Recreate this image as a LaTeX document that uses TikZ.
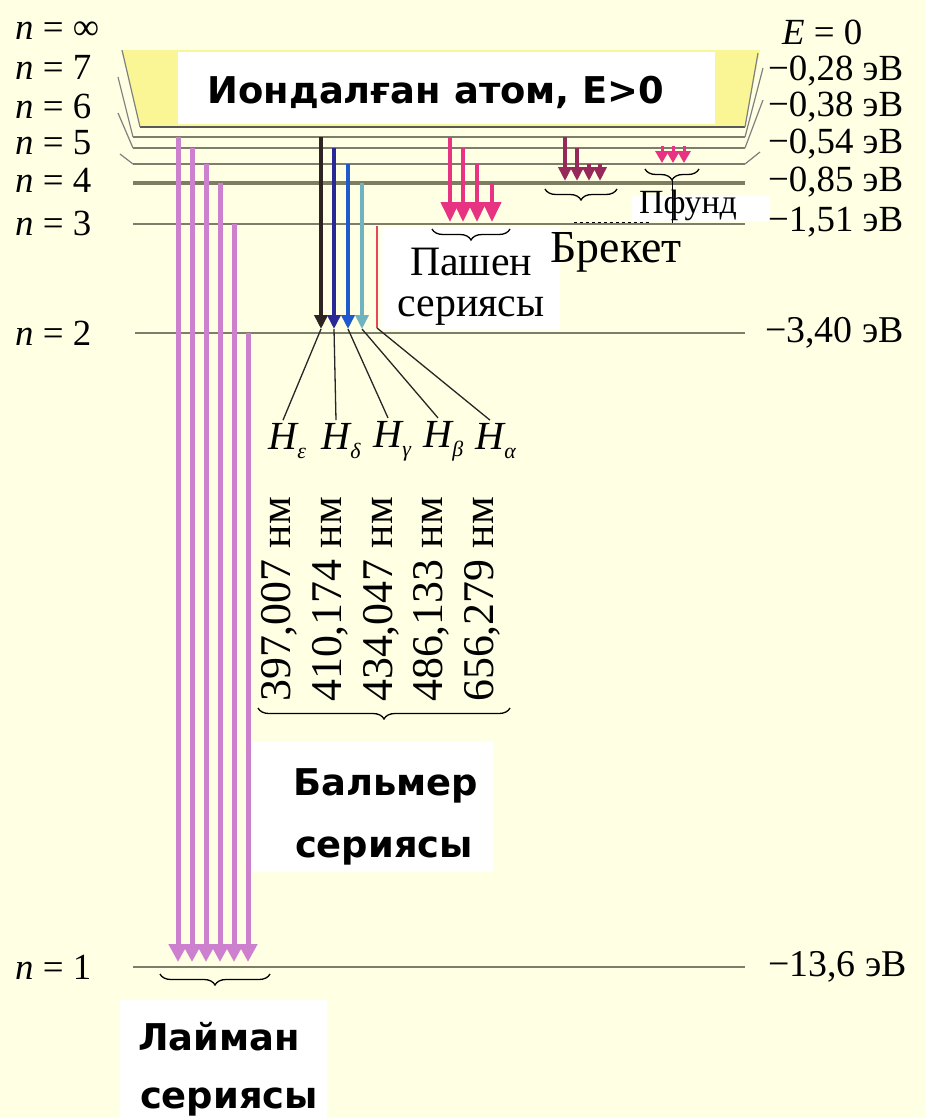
\documentclass[tikz,border=0pt]{standalone}
\usepackage{fontspec}
\setmainfont{Liberation Serif}
\newfontfamily\headfont{DejaVu Sans}
\usetikzlibrary{arrows.meta,decorations.pathreplacing}

\definecolor{bgcream}{RGB}{255,255,228}
\definecolor{topyellow}{RGB}{250,246,150}
\definecolor{levelgray}{RGB}{125,125,108}
\definecolor{lymanviolet}{RGB}{204,128,206}
\definecolor{balmerblack}{RGB}{45,35,35}
\definecolor{balmerdark}{RGB}{40,40,150}
\definecolor{balmerblue}{RGB}{30,90,205}
\definecolor{balmerteal}{RGB}{110,180,190}
\definecolor{balmerred}{RGB}{230,70,90}
\definecolor{paschenpink}{RGB}{232,50,130}
\definecolor{brackettred}{RGB}{150,40,90}

\newcommand{\fsz}[1]{\fontsize{#1}{#1}\selectfont}
\newcommand{\hsub}[1]{\rlap{\raisebox{-9bp}{\fsz{22}#1}}}

\begin{document}
\begin{tikzpicture}[
  x=1bp, y=-1bp,
  levelline/.style={levelgray, line width=2.5bp},
  bendline/.style={gray, line width=1.2bp},
  lyman/.style={lymanviolet, line width=5bp, -{Triangle[width=18bp,length=18bp]}},
  balmer/.style={line width=3.5bp, -{Triangle[width=13bp,length=14bp]}},
  paschen/.style={paschenpink, line width=4bp, -{Triangle[width=18bp,length=20bp]}},
  brackett/.style={brackettred, line width=3.5bp, -{Triangle[width=13bp,length=14bp]}},
  pfund/.style={paschenpink, line width=3bp, -{Triangle[width=13bp,length=12bp]}},
  leader/.style={black!85, line width=1.3bp},
  brace/.style={black, line width=1.3bp, decorate, decoration={brace, mirror, amplitude=11bp}},
  levlab/.style={anchor=west, inner sep=0pt, font=\fsz{37}},
  hlabel/.style={inner sep=3bp, font=\itshape\fsz{40}},
  wave/.style={rotate=90, anchor=west, inner sep=0pt, font=\fsz{44}},
  serif/.style={inner sep=0pt, font=\fsz{46}},
  series/.style={anchor=base, inner sep=0pt, font=\headfont\bfseries\fsz{37}}
]
\useasboundingbox[fill=bgcream] (0,0) rectangle (926,1118);

% ionised region
\fill[topyellow] (122,50) -- (760,50) -- (745,127) -- (140,127) -- cycle;
\fill[white] (178,52) rectangle (715,124);
\node[font=\headfont\bfseries\fsz{37}, anchor=base, inner sep=0pt] (ion) at (436,103) {Иондалған атом, E>0};

% white label backgrounds
\fill[white] (381,227) rectangle (560,330);
\fill[white] (632,196) rectangle (770,221);
\fill[white] (250,742) rectangle (493,872);
\fill[white] (120,1000) rectangle (327,1118);

% energy levels
\foreach \n/\y/\xw in {inf/127/140, 7/137/133, 6/148/133, 5/164/133, 3/224/133, 2/333/135, 1/967/133} {
  \coordinate (lvl\n w) at (\xw,\y);
  \coordinate (lvl\n e) at (745,\y);
  \draw[levelline] (lvl\n w) -- (lvl\n e);
}
\coordinate (lvl4w) at (133,183);
\coordinate (lvl4e) at (745,183);
\draw[levelline, line width=4bp, levelgray!90!olive] (lvl4w) -- (lvl4e);
\draw[levelline, black!65] (lvlinfw) -- (lvlinfe);

% bends to the labels
\coordinate (bInfl) at (122,50);  \coordinate (bInfr) at (758,53);
\coordinate (b7l) at (118,77);    \coordinate (b7r) at (763,68);
\coordinate (b6l) at (118,113);   \coordinate (b6r) at (763,100);
\coordinate (b5l) at (120,154);   \coordinate (b5r) at (760,152);
\draw[bendline] (bInfl) -- (lvlinfw);  \draw[bendline] (lvlinfe) -- (bInfr);
\draw[bendline] (b7l) -- (lvl7w);      \draw[bendline] (lvl7e) -- (b7r);
\draw[bendline] (b6l) -- (lvl6w);      \draw[bendline] (lvl6e) -- (b6r);
\draw[bendline] (b5l) -- (lvl5w);      \draw[bendline] (lvl5e) -- (b5r);

% level labels
\node[levlab] (nInf) at (15,31) {{\itshape n} = ∞};
\node[levlab] (n7) at (15,67) {{\itshape n} = 7};
\node[levlab] (n6) at (15,106) {{\itshape n} = 6};
\node[levlab] (n5) at (15,143) {{\itshape n} = 5};
\node[levlab] (n4) at (15,180) {{\itshape n} = 4};
\node[levlab] (n3) at (15,223) {{\itshape n} = 3};
\node[levlab] (n2) at (15,333) {{\itshape n} = 2};
\node[levlab] (n1) at (15,967) {{\itshape n} = 1};

\node[levlab] (eInf) at (782,32) {{\itshape E} = 0};
\node[levlab, font=\fsz{37}] (e7) at (768,71) {−0,28 эВ};
\node[levlab, font=\fsz{37}] (e6) at (768,107) {−0,38 эВ};
\node[levlab, font=\fsz{37}] (e5) at (768,144) {−0,54 эВ};
\node[levlab, font=\fsz{37}] (e4) at (768,182) {−0,85 эВ};
\node[levlab, font=\fsz{37}] (e3) at (768,222) {−1,51 эВ};
\node[levlab, font=\fsz{38}] (e2) at (765,333) {−3,40 эВ};
\node[levlab, font=\fsz{38}] (e1) at (768,967) {−13,6 эВ};

% Lyman
\foreach \x/\y [count=\i] in {178/137, 192/148, 206/164, 220/183, 234/224, 248/333} {
  \coordinate (lyS\i) at (\x,\y);
  \coordinate (lyE\i) at (\x,962);
  \draw[lyman] (lyS\i) -- (lyE\i);
}

% Balmer
\foreach \x/\y/\c/\nm in {321/137/balmerblack/e, 334/148/balmerdark/d, 348/164/balmerblue/g, 362/183/balmerteal/b} {
  \coordinate (baS\nm) at (\x,\y);
  \coordinate (baE\nm) at (\x,329);
  \draw[balmer, \c] (baS\nm) -- (baE\nm);
}
\coordinate (baSa) at (377,226);
\coordinate (baEa) at (377,328);
\draw[balmerred, line width=2bp] (baSa) -- (baEa);

\node[hlabel] (hE) at (283,441) {H\hsub{ε}};
\node[hlabel] (hD) at (336,441) {H\hsub{δ}};
\node[hlabel] (hG) at (388,441) {H\hsub{γ}};
\node[hlabel] (hB) at (438,441) {H\hsub{β}};
\node[hlabel] (hA) at (490,441) {H\hsub{α}};
\draw[leader] (baEe) -- (hE.north);
\draw[leader] (baEd) -- (hD.north);
\draw[leader] (baEg) -- (hG.north);
\draw[leader] (baEb) -- (hB.north);
\draw[leader] (baEa) -- (hA.north);

\node[wave] (wl1) at (279,702) {397,007 нм};
\node[wave] (wl2) at (330,702) {410,174 нм};
\node[wave] (wl3) at (381,702) {434,047 нм};
\node[wave] (wl4) at (431,702) {486,133 нм};
\node[wave] (wl5) at (482,702) {656,279 нм};

\coordinate (brBa1) at (258,708);
\coordinate (brBa2) at (510,708);
\draw[brace] (brBa1) -- (brBa2);
\node[series] (balA) at (386,795) {Бальмер};
\node[series] (balB) at (384,857) {сериясы};

% Lyman label
\coordinate (brLy1) at (160,974);
\coordinate (brLy2) at (270,974);
\draw[brace] (brLy1) -- (brLy2);
\node[series] (lyA) at (219,1050) {Лайман};
\node[series] (lyB) at (229,1108) {сериясы};

% Paschen
\foreach \x/\y [count=\i] in {450/137, 463/148, 477/164, 492/183} {
  \coordinate (paS\i) at (\x,\y);
  \coordinate (paE\i) at (\x,222);
  \draw[paschen] (paS\i) -- (paE\i);
}
\coordinate (brPa1) at (432,229);
\coordinate (brPa2) at (510,229);
\draw[brace] (brPa1) -- (brPa2);
\node[serif, align=center, font=\fontsize{42}{41}\selectfont] (pa) at (471,287) {Пашен\\сериясы};

% Brackett
\foreach \x/\y [count=\i] in {565/137, 577/148, 589/164, 600/164} {
  \coordinate (bkS\i) at (\x,\y);
  \coordinate (bkE\i) at (\x,181);
  \draw[brackett] (bkS\i) -- (bkE\i);
}
\coordinate (brBk1) at (545,189);
\coordinate (brBk2) at (617,189);
\draw[brace] (brBk1) -- (brBk2);
\coordinate (dsh1) at (574,222);
\coordinate (dsh2) at (650,222);
\draw[black, line width=1bp, dashed] (dsh1) -- (dsh2);
\node[serif] (bkA) at (616,252) {Брекет};

% Pfund
\foreach \x [count=\i] in {662, 673, 684} {
  \coordinate (pfS\i) at (\x,146);
  \coordinate (pfE\i) at (\x,163);
  \draw[pfund] (pfS\i) -- (pfE\i);
}
\coordinate (brPf1) at (645,169);
\coordinate (brPf2) at (699,169);
\draw[brace] (brPf1) -- (brPf2);
\coordinate (pfT1) at (672,180);
\coordinate (pfT2) at (672,223);
\draw[black, line width=1bp] (pfT1) -- (pfT2);
\node[inner sep=0pt, font=\fsz{34}] (pfA) at (688,205) {Пфунд};
\end{tikzpicture}
\end{document}
